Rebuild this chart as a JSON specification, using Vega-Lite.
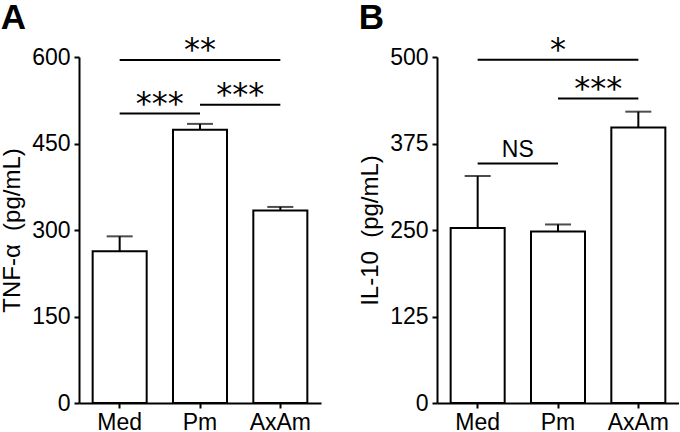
{
  "$schema": "https://vega.github.io/schema/vega-lite/v6.json",
  "background": "white",
  "padding": {"left": 0, "top": 0, "right": 0, "bottom": 0},
  "spacing": 37,
  "config": {
    "view": {"stroke": null},
    "axis": {
      "domainColor": "black", "domainWidth": 2, "tickColor": "black", "tickWidth": 2, "tickSize": 5,
      "labelFont": "Liberation Sans", "labelFontSize": 23, "labelColor": "black",
      "titleFont": "Liberation Sans", "titleFontSize": 24, "titleFontWeight": "normal", "titleColor": "black",
      "grid": false
    },
    "title": {"font": "Liberation Sans", "fontSize": 35, "fontWeight": "bold", "color": "black", "anchor": "start", "frame": "bounds", "baseline": "alphabetic", "offset": -2}
  },
  "datasets": {
    "tnf": [
      {"group": "Med", "mean": 263, "upper": 289},
      {"group": "Pm", "mean": 474, "upper": 484},
      {"group": "AxAm", "mean": 334, "upper": 340}
    ],
    "il10": [
      {"group": "Med", "mean": 253, "upper": 328},
      {"group": "Pm", "mean": 248, "upper": 258},
      {"group": "AxAm", "mean": 398, "upper": 421}
    ],
    "tnfSig": [
      {"from": 0, "to": 2, "mid": 1, "level": 595, "label": "**"},
      {"from": 0, "to": 1, "mid": 0.5, "level": 502, "label": "***"},
      {"from": 1, "to": 2, "mid": 1.5, "level": 517, "label": "***"}
    ],
    "il10Sig": [
      {"from": 0, "to": 2, "mid": 1, "level": 496, "label": "*"},
      {"from": 1, "to": 2, "mid": 1.5, "level": 440, "label": "***"},
      {"from": 0, "to": 1, "mid": 0.5, "level": 346, "label": "NS"}
    ]
  },
  "hconcat": [
    {
      "title": {"text": "A"},
      "width": 242,
      "height": 346,
      "resolve": {"scale": {"x": "independent"}},
      "layer": [
        {
          "data": {"name": "tnf"},
          "layer": [
            {
              "mark": {"type": "bar", "fill": "white", "stroke": "black", "strokeWidth": 2},
              "encoding": {
                "x": {"field": "group", "type": "nominal", "sort": ["Med", "Pm", "AxAm"],
                      "scale": {"paddingInner": 0.3275, "paddingOuter": 0.17, "round": false},
                      "axis": {"title": null, "labelAngle": 0, "labelPadding": 3}},
                "y": {"field": "mean", "type": "quantitative",
                      "scale": {"domain": [0, 600], "nice": false},
                      "axis": {"title": "TNF-α\u00a0 (pg/mL)", "values": [0, 150, 300, 450, 600], "labelPadding": 4, "titlePadding": 7}}
              }
            },
            {
              "mark": {"type": "rule", "stroke": "black", "strokeWidth": 2},
              "encoding": {
                "x": {"field": "group", "type": "nominal", "sort": ["Med", "Pm", "AxAm"]},
                "y": {"field": "mean", "type": "quantitative"},
                "y2": {"field": "upper"}
              }
            },
            {
              "mark": {"type": "tick", "color": "black", "size": 26, "thickness": 2, "orient": "horizontal"},
              "encoding": {
                "x": {"field": "group", "type": "nominal", "sort": ["Med", "Pm", "AxAm"]},
                "y": {"field": "upper", "type": "quantitative"}
              }
            }
          ]
        },
        {
          "data": {"name": "tnfSig"},
          "layer": [
            {
              "mark": {"type": "rule", "stroke": "black", "strokeWidth": 2},
              "encoding": {
                "x": {"field": "from", "type": "quantitative", "scale": {"domain": [-0.506, 2.506], "nice": false, "zero": false}, "axis": null},
                "x2": {"field": "to"},
                "y": {"field": "level", "type": "quantitative"}
              }
            },
            {
              "mark": {"type": "text", "font": "DejaVu Sans", "fontSize": 32, "baseline": "alphabetic", "align": "center", "color": "black"},
              "encoding": {
                "x": {"field": "mid", "type": "quantitative"},
                "y": {"field": "level", "type": "quantitative"},
                "text": {"field": "label"}
              }
            }
          ]
        }
      ]
    },
    {
      "title": {"text": "B"},
      "width": 242,
      "height": 346,
      "resolve": {"scale": {"x": "independent"}},
      "layer": [
        {
          "data": {"name": "il10"},
          "layer": [
            {
              "mark": {"type": "bar", "fill": "white", "stroke": "black", "strokeWidth": 2},
              "encoding": {
                "x": {"field": "group", "type": "nominal", "sort": ["Med", "Pm", "AxAm"],
                      "scale": {"paddingInner": 0.3275, "paddingOuter": 0.17, "round": false},
                      "axis": {"title": null, "labelAngle": 0, "labelPadding": 3}},
                "y": {"field": "mean", "type": "quantitative",
                      "scale": {"domain": [0, 500], "nice": false},
                      "axis": {"title": "IL-10\u00a0 (pg/mL)", "values": [0, 125, 250, 375, 500], "labelPadding": 4, "titlePadding": 7}}
              }
            },
            {
              "mark": {"type": "rule", "stroke": "black", "strokeWidth": 2},
              "encoding": {
                "x": {"field": "group", "type": "nominal", "sort": ["Med", "Pm", "AxAm"]},
                "y": {"field": "mean", "type": "quantitative"},
                "y2": {"field": "upper"}
              }
            },
            {
              "mark": {"type": "tick", "color": "black", "size": 26, "thickness": 2, "orient": "horizontal"},
              "encoding": {
                "x": {"field": "group", "type": "nominal", "sort": ["Med", "Pm", "AxAm"]},
                "y": {"field": "upper", "type": "quantitative"}
              }
            }
          ]
        },
        {
          "data": {"name": "il10Sig"},
          "layer": [
            {
              "mark": {"type": "rule", "stroke": "black", "strokeWidth": 2},
              "encoding": {
                "x": {"field": "from", "type": "quantitative", "scale": {"domain": [-0.506, 2.506], "nice": false, "zero": false}, "axis": null},
                "x2": {"field": "to"},
                "y": {"field": "level", "type": "quantitative"}
              }
            },
            {
              "transform": [{"filter": "datum.label !== 'NS'"}],
              "mark": {"type": "text", "font": "DejaVu Sans", "fontSize": 32, "baseline": "alphabetic", "align": "center", "color": "black"},
              "encoding": {
                "x": {"field": "mid", "type": "quantitative"},
                "y": {"field": "level", "type": "quantitative"},
                "text": {"field": "label"}
              }
            },
            {
              "transform": [{"filter": "datum.label === 'NS'"}],
              "mark": {"type": "text", "font": "Liberation Sans", "fontSize": 23, "baseline": "alphabetic", "align": "center", "color": "black", "dy": -7},
              "encoding": {
                "x": {"field": "mid", "type": "quantitative"},
                "y": {"field": "level", "type": "quantitative"},
                "text": {"field": "label"}
              }
            }
          ]
        }
      ]
    }
  ]
}
